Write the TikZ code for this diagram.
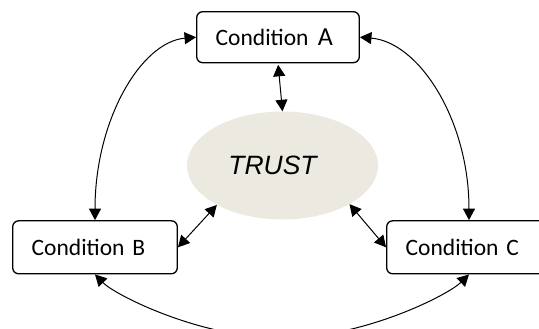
\documentclass[tikz,border=0pt]{standalone}
\usepackage{fontspec}
\setmainfont{Carlito}
\newfontfamily\trustfont{Liberation Sans}
\usetikzlibrary{shapes.geometric,arrows.meta}
\definecolor{trustfill}{RGB}{236,234,224}
\tikzset{
  condbox/.style={draw=black, line width=1.3pt, rounded corners=6pt, fill=white,
    minimum height=53pt, inner xsep=19pt, inner ysep=0pt, align=left,
    font=\fontsize{23.5pt}{26pt}\selectfont},
  link/.style={line width=1pt, {Triangle[length=11.5pt,width=12pt]}-{Triangle[length=11.5pt,width=12pt]}},
  trustshape/.style={ellipse, fill=trustfill, draw=none, minimum width=191pt, minimum height=108pt, inner sep=0pt}
}
\begin{document}
\begin{tikzpicture}[x=1pt,y=-1pt]
\clip (0,0) rectangle (539,329);
\node[trustshape, label={[xshift=-10pt,yshift=0pt,font=\trustfont\itshape\fontsize{26.5pt}{28pt}\selectfont]center:TRUST}] (T) at (282.5,165.5) {};
\node[condbox, text width=124.6pt, minimum height=51pt] (A) at (278,37.2) {Condition\hspace{1.5pt} {\fontsize{26pt}{26pt}\selectfont A}};
\node[condbox, text width=126.6pt] (B) at (95,247.3) {Condition B};
\node[condbox, text width=126.6pt] (C) at (469,247.3) {Condition C};
\draw[link] (A.west) .. controls (141,42) and (95,120) .. (B.north);
\draw[link] (A.east) .. controls (419,42) and (469,120) .. (C.north);
\coordinate (bot) at (282,338);
\draw[link] (B.south) .. controls (115,295) and (200,338) .. (bot) .. controls (364,338) and (448,295) .. (C.south);
\draw[link, shorten <=1.5pt] (A.south) -- (T.north);
\draw[link] (B.east) -- (T.211);
\draw[link] (T.330) -- (C.west);
\end{tikzpicture}
\end{document}
